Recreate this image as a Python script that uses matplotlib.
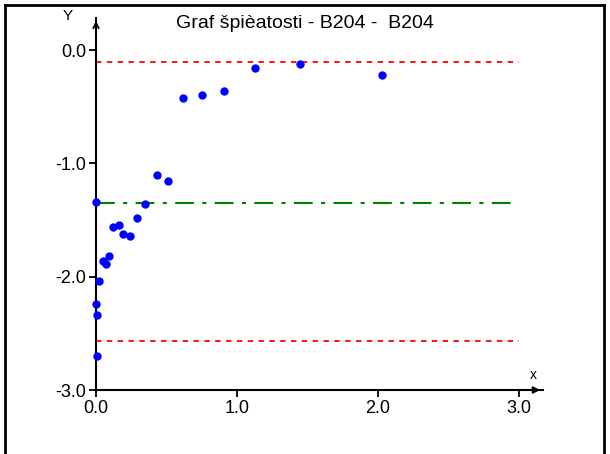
import matplotlib
matplotlib.use("Agg")
import matplotlib.pyplot as plt
from matplotlib.lines import Line2D

plt.rcParams["font.family"] = ["Liberation Sans Narrow", "Liberation Sans", "DejaVu Sans"]

# data
x_vals = [0.00, 0.02, 0.00, 0.01, 0.01, 0.05, 0.07, 0.09, 0.12, 0.16, 0.19,
          0.24, 0.29, 0.35, 0.43, 0.51, 0.62, 0.75, 0.91, 1.13, 1.45, 2.03]
y_vals = [-1.34, -2.04, -2.24, -2.34, -2.70, -1.86, -1.89, -1.82, -1.56, -1.54, -1.62,
          -1.64, -1.48, -1.36, -1.10, -1.16, -0.42, -0.40, -0.36, -0.16, -0.12, -0.22]
upper_limit = -0.11
mean_line = -1.35
lower_limit = -2.57
x_ticks = [0.0, 1.0, 2.0, 3.0]
y_ticks = [0.0, -1.0, -2.0, -3.0]
title = "Graf špièatosti - B204 -  B204"

W, H = 610, 454
fig = plt.figure(figsize=(W / 100, H / 100), dpi=100)

# axes: x 0..3 -> px 96..519, y 0..-3 -> px 50..390, axes extend to arrows
x_max = (543 - 96) / 141.0
y_top = (50 - 18) / 113.3
ax = fig.add_axes([96 / W, (H - 390) / H, (543 - 96) / W, (390 - 18) / H])
ax.set_xlim(0, x_max)
ax.set_ylim(-3.0, y_top)

ax.plot(x_vals, y_vals, "o", color="#0000ff", markersize=5, zorder=3, clip_on=False)
ax.plot([0, 3.0], [upper_limit, upper_limit], color="#ff0000", lw=1.3, ls=(0, (3, 3)))
ax.plot([0, 3.0], [lower_limit, lower_limit], color="#ff0000", lw=1.3, ls=(0, (3, 3)))
ax.plot([0, 3.0], [mean_line, mean_line], color="#008000", lw=1.5, ls=(0, (9, 4, 2, 4)))

for s in ["top", "right"]:
    ax.spines[s].set_visible(False)
for s in ["left", "bottom"]:
    ax.spines[s].set_linewidth(1.5)
ax.set_xticks(x_ticks)
ax.set_xticklabels([f"{v:.1f}" for v in x_ticks])
ax.set_yticks(y_ticks)
ax.set_yticklabels([f"{v:.1f}" for v in y_ticks])
ax.tick_params(labelsize=13, length=5, width=1.3, color="#000000", labelcolor="#000000", pad=2)

# arrows at axis ends
ax.annotate("", xy=(1.0, 0), xycoords="axes fraction", xytext=(0.93, 0),
            arrowprops=dict(arrowstyle="-|>", color="black", lw=1.3, mutation_scale=10))
ax.annotate("", xy=(0, 1.0), xycoords="axes fraction", xytext=(0, 0.93),
            arrowprops=dict(arrowstyle="->", color="black", lw=1.3, mutation_scale=10))
fig.text(533 / W, 1 - 375 / H, "x", fontsize=10, ha="center", va="center")
fig.text(68 / W, 1 - 16 / H, "Y", fontsize=11, ha="center", va="center")
fig.text(305 / W, 1 - 23 / H, title, fontsize=14, ha="center", va="center")

# outer frame
fig.add_artist(Line2D([5 / W, 604 / W], [1 - 5 / H, 1 - 5 / H], color="black", lw=2))
fig.add_artist(Line2D([5 / W, 5 / W], [0, 1 - 5 / H], color="black", lw=2))
fig.add_artist(Line2D([604 / W, 604 / W], [0, 1 - 5 / H], color="black", lw=2))

fig.savefig("out.png", dpi=100)
